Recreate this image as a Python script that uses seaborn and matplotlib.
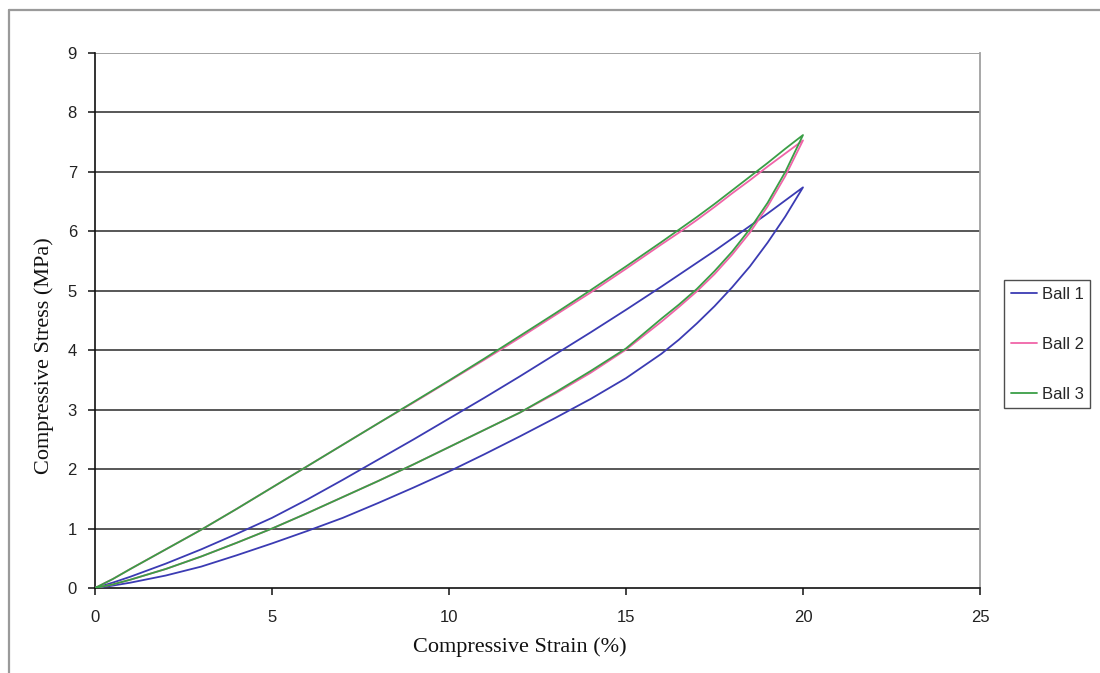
import numpy as np
import pandas as pd
import matplotlib
matplotlib.use("Agg")
import matplotlib.pyplot as plt
from matplotlib.lines import Line2D
import seaborn as sns

# Strain grid (%) shared by the loading and unloading branches
strain = [0, 0.5, 1, 2, 3, 4, 5, 6, 7, 8, 9, 10, 11, 12, 13, 14, 15, 16,
          16.5, 17, 17.5, 18, 18.5, 19, 19.5, 20]

# Compressive stress (MPa): loading branch (lower) and unloading branch (upper)
ball1_load = [0, 0.04, 0.09, 0.21, 0.36, 0.55, 0.75, 0.96, 1.18, 1.43, 1.69, 1.96,
              2.25, 2.55, 2.86, 3.18, 3.53, 3.94,
              4.18, 4.45, 4.74, 5.06, 5.41, 5.81, 6.25, 6.74]
ball1_unload = [0, 0.09, 0.19, 0.41, 0.65, 0.91, 1.18, 1.49, 1.82, 2.16, 2.50, 2.85,
                3.20, 3.56, 3.93, 4.30, 4.68, 5.07,
                5.27, 5.47, 5.67, 5.88, 6.09, 6.30, 6.52, 6.74]

ball2_load = [0, 0.06, 0.14, 0.32, 0.53, 0.76, 1.00, 1.26, 1.53, 1.80, 2.08, 2.37,
              2.66, 2.95, 3.27, 3.62, 4.01, 4.48,
              4.73, 4.99, 5.28, 5.61, 5.98, 6.42, 6.93, 7.53]
ball2_unload = [0, 0.15, 0.32, 0.65, 0.98, 1.33, 1.69, 2.05, 2.41, 2.77, 3.12, 3.48,
                3.84, 4.21, 4.59, 4.97, 5.37, 5.78,
                5.98, 6.19, 6.41, 6.64, 6.86, 7.09, 7.31, 7.53]

ball3_load = [0, 0.06, 0.14, 0.32, 0.53, 0.76, 1.00, 1.26, 1.53, 1.80, 2.08, 2.37,
              2.66, 2.95, 3.29, 3.65, 4.03, 4.53,
              4.77, 5.03, 5.33, 5.66, 6.04, 6.48, 7.00, 7.62]
ball3_unload = [0, 0.15, 0.32, 0.65, 0.98, 1.33, 1.69, 2.05, 2.41, 2.77, 3.13, 3.49,
                3.86, 4.24, 4.62, 5.01, 5.41, 5.82,
                6.03, 6.24, 6.46, 6.69, 6.92, 7.15, 7.39, 7.62]

series_names = ["Ball 1", "Ball 2", "Ball 3"]
series_colors = ["#3b3bb3", "#f064a8", "#3a9e46"]

x_ticks = [0, 5, 10, 15, 20, 25]
y_ticks = [0, 1, 2, 3, 4, 5, 6, 7, 8, 9]


def loop_frame(name, load, unload):
    # loading branch forward, unloading branch back to the origin
    xs = list(strain) + list(strain[::-1])
    ys = list(load) + list(unload[::-1])
    return pd.DataFrame({"Strain": xs, "Stress": ys, "Ball": name})


df = pd.concat([
    loop_frame("Ball 1", ball1_load, ball1_unload),
    loop_frame("Ball 2", ball2_load, ball2_unload),
    loop_frame("Ball 3", ball3_load, ball3_unload),
], ignore_index=True)

sns.set_style("white")
plt.rcParams["font.family"] = ["Liberation Sans", "DejaVu Sans"]

fig = plt.figure(figsize=(11.0, 6.73), dpi=100)
ax = fig.add_axes([95 / 1100, 1 - 588 / 673, (980 - 95) / 1100, (588 - 53) / 673])

sns.lineplot(data=df, x="Strain", y="Stress", hue="Ball", sort=False,
             estimator=None, palette=dict(zip(series_names, series_colors)),
             linewidth=1.3, ax=ax, legend=False, zorder=3)

ax.set_xlim(0, 25)
ax.set_ylim(0, 9)
ax.set_xticks(x_ticks)
ax.set_yticks(y_ticks)

# horizontal gridlines
for yv in y_ticks[1:]:
    ax.axhline(yv, color="#4a4a4a" if yv < 9 else "#9a9a9a", lw=1.3, zorder=1)

for side in ["left", "bottom"]:
    ax.spines[side].set_color("#111111")
    ax.spines[side].set_linewidth(1.2)
ax.spines["top"].set_visible(False)
ax.spines["right"].set_color("#a0a0a0")
ax.spines["right"].set_linewidth(1.3)

ax.tick_params(axis="y", direction="out", length=5, width=1.1, color="#111111",
               labelsize=12, labelcolor="#222222", pad=8, left=True)
ax.tick_params(axis="x", direction="out", length=5, width=1.1, color="#111111",
               labelsize=12, labelcolor="#222222", pad=11, bottom=True)

ax.set_xlabel("Compressive Strain (%)", family="Liberation Serif", fontsize=16,
              color="#111111")
ax.set_ylabel("Compressive Stress (MPa)", family="Liberation Serif", fontsize=16,
              color="#111111")
ax.xaxis.set_label_coords((520 - 95) / (980 - 95), -(637 - 588) / (588 - 53))
ax.yaxis.set_label_coords(-(95 - 54) / (980 - 95), (588 - 356) / (588 - 53))

handles = [Line2D([0], [0], color=c, lw=1.3) for c in series_colors]
leg = fig.legend(handles, series_names, loc="upper left",
                 bbox_to_anchor=(1004 / 1100, 1 - 280 / 673),
                 frameon=True, fancybox=False, fontsize=12,
                 labelspacing=2.1, handlelength=1.6, handletextpad=0.25,
                 borderpad=0.4, borderaxespad=0)
leg.get_frame().set_edgecolor("#222222")
leg.get_frame().set_linewidth(1.0)

# outer frame edges along the top and left of the canvas
fig.add_artist(Line2D([9 / 1100, 1], [1 - 10 / 673, 1 - 10 / 673],
                      color="#9a9a9a", lw=1.6, transform=fig.transFigure))
fig.add_artist(Line2D([9 / 1100, 9 / 1100], [0, 1 - 10 / 673],
                      color="#9a9a9a", lw=1.6, transform=fig.transFigure))

fig.savefig("out.png", dpi=100)
